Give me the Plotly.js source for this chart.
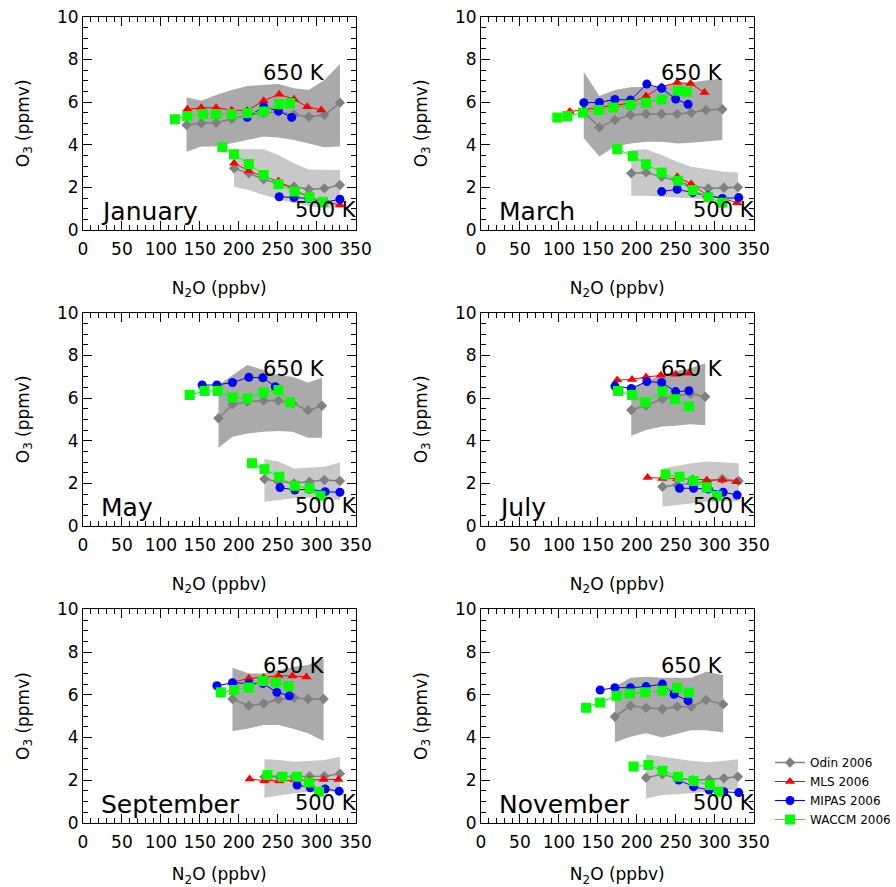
<!DOCTYPE html>
<html><head><meta charset="utf-8">
<script src="https://cdn.plot.ly/plotly-3.0.1.min.js"></script>
<style>html,body{margin:0;padding:0;background:#fff}#chart{width:896px;height:887px}</style>
</head><body><div id="chart"></div>
<script>
// ---------------- January ----------------
const janOdin650X = [133,152,171,191,211,232,251,271,290,310,330];
const janOdin650Y = [4.92,5.0,5.03,5.2,5.39,5.47,5.55,5.4,5.31,5.39,5.97];
const janOdin650Hi = [6.22,6.06,6.33,6.56,6.75,6.8,6.84,6.64,6.56,7.03,7.78];
const janOdin650Lo = [3.67,3.91,3.91,4.06,4.22,4.38,4.34,4.22,4.06,3.88,3.91];
const janOdin500X = [194,213,232,251,271,290,310,330];
const janOdin500Y = [2.89,2.66,2.38,2.16,2.03,1.91,1.95,2.11];
const janOdin500Hi = [3.78,3.78,3.78,3.52,3.13,2.84,2.84,2.81];
const janOdin500Lo = [2.03,1.88,1.64,1.44,1.25,1.13,1.02,1.09];
const janMls650X = [134,152,171,191,211,232,252,271,288,306];
const janMls650Y = [5.66,5.73,5.73,5.62,5.6,6.06,6.36,6.13,5.78,5.63];
const janMls500X = [194,213,232,251,271,290,310,330];
const janMls500Y = [3.13,2.77,2.5,2.3,1.88,1.56,1.33,1.17];
const janMipas650X = [211,232,251,268];
const janMipas650Y = [5.28,5.78,5.58,5.28];
const janMipas500X = [252,271,290,310,330];
const janMipas500Y = [1.56,1.52,1.48,1.3,1.44];
const janWaccm650X = [118,134,154,171,191,211,232,252,266];
const janWaccm650Y = [5.19,5.34,5.44,5.44,5.44,5.47,5.55,5.91,5.94];
const janWaccm500X = [179,194,213,232,251,272,291,308];
const janWaccm500Y = [3.88,3.55,3.09,2.58,2.16,1.8,1.53,1.33];

// ---------------- March ----------------
const marOdin650X = [132,152,172,192,212,232,252,270,289,310];
const marOdin650Y = [5.55,4.81,5.16,5.39,5.44,5.44,5.44,5.5,5.63,5.66];
const marOdin650Hi = [7.42,6.28,6.56,6.69,6.72,6.75,6.84,6.91,7.0,7.1];
const marOdin650Lo = [4.3,3.44,3.91,4.06,4.14,4.14,4.06,4.09,4.14,4.22];
const marOdin500X = [193,212,232,252,270,292,312,330];
const marOdin500Y = [2.66,2.7,2.5,2.3,2.06,1.95,1.98,2.0];
const marOdin500Hi = [3.75,3.78,3.52,3.2,2.97,2.84,2.73,2.69];
const marOdin500Lo = [1.61,1.61,1.56,1.53,1.48,1.44,1.41,1.38];
const marMls650X = [114,132,151,171,192,212,232,252,269,287];
const marMls650Y = [5.55,5.65,5.75,5.85,5.95,6.28,6.72,6.91,6.87,6.45];
const marMls500X = [252,270,290,310,329];
const marMls500Y = [2.5,2.16,1.64,1.48,1.28];
const marMipas650X = [132,152,172,192,213,232,250,266];
const marMipas650Y = [5.97,5.98,6.12,6.09,6.84,6.64,6.14,5.89];
const marMipas500X = [232,252,272,292,310,331];
const marMipas500Y = [1.8,1.91,1.75,1.59,1.48,1.52];
const marWaccm650X = [98,111,131,151,170,192,212,232,253,264];
const marWaccm650Y = [5.28,5.34,5.5,5.63,5.74,5.86,5.97,6.12,6.53,6.48];
const marWaccm500X = [175,195,212,232,253,272,292,310];
const marWaccm500Y = [3.78,3.47,3.08,2.69,2.31,1.88,1.53,1.28];

// ---------------- May ----------------
const mayOdin650X = [174,192,211,232,251,269,289,307];
const mayOdin650Y = [5.05,5.7,5.83,5.88,5.88,5.75,5.42,5.64];
const mayOdin650Hi = [6.61,7.08,7.55,7.31,7.05,7.0,6.73,6.95];
const mayOdin650Lo = [3.67,4.19,4.34,4.42,4.45,4.42,4.14,4.14];
const mayOdin500X = [233,251,271,291,310,330];
const mayOdin500Y = [2.2,2.08,2.0,2.08,2.16,2.11];
const mayOdin500Hi = [3.14,3.02,2.7,2.73,2.78,2.98];
const mayOdin500Lo = [1.14,1.22,1.3,1.33,1.27,1.22];
const mayMipas650X = [153,172,192,213,231,247];
const mayMipas650Y = [6.61,6.61,6.73,6.97,6.95,6.53];
const mayMipas500X = [253,272,291,311,330];
const mayMipas500Y = [1.8,1.69,1.73,1.61,1.58];
const mayWaccm650X = [137,156,173,192,211,232,251,266];
const mayWaccm650Y = [6.14,6.33,6.33,6.03,5.98,6.27,6.38,5.8];
const mayWaccm500X = [217,233,252,272,291,305];
const mayWaccm500Y = [2.94,2.66,2.31,1.89,1.77,1.42];

// ---------------- July ----------------
const julOdin650X = [193,212,233,250,269,288];
const julOdin650Y = [5.44,5.65,5.95,6.1,6.2,6.06];
const julOdin650Hi = [6.48,6.8,7.08,7.27,7.39,7.63];
const julOdin650Lo = [4.23,4.5,4.66,4.7,4.77,4.72];
const julOdin500X = [233,252,270,290,310,331];
const julOdin500Y = [1.84,1.92,2.0,2.08,2.2,2.11];
const julOdin500Hi = [2.7,2.83,2.94,3.02,2.98,2.94];
const julOdin500Lo = [0.91,0.98,1.06,1.14,1.14,1.17];
const julMls650X = [175,194,212,231,250,267];
const julMls650Y = [6.84,6.87,6.99,7.07,7.12,7.16];
const julMls500X = [214,233,252,272,290,310,328];
const julMls500Y = [2.27,2.23,2.22,2.2,2.16,2.16,2.08];
const julMipas650X = [172,193,213,232,250,267];
const julMipas650Y = [6.56,6.45,6.77,6.73,6.3,6.34];
const julMipas500X = [255,273,292,311,329];
const julMipas500Y = [1.77,1.77,1.73,1.58,1.45];
const julWaccm650X = [176,194,211,233,249,267];
const julWaccm650Y = [6.33,6.14,5.8,6.3,5.94,5.6];
const julWaccm500X = [237,255,273,290,303];
const julWaccm500Y = [2.42,2.31,2.11,1.81,1.42];

// ---------------- September ----------------
const sepOdin650X = [192,213,232,251,271,289,309];
const sepOdin650Y = [5.8,5.48,5.59,5.78,5.86,5.8,5.8];
const sepOdin650Hi = [7.27,7.0,7.0,7.16,7.31,7.39,7.7];
const sepOdin650Lo = [4.3,4.42,4.58,4.58,4.39,4.19,3.83];
const sepOdin500X = [233,252,271,291,310,330];
const sepOdin500Y = [2.15,2.15,2.15,2.18,2.18,2.3];
const sepOdin500Hi = [2.98,2.94,2.86,2.89,2.94,3.09];
const sepOdin500Lo = [1.17,1.27,1.38,1.45,1.48,1.45];
const sepMls650X = [192,213,232,251,269,287];
const sepMls650Y = [6.58,6.77,6.81,6.89,6.88,6.83];
const sepMls500X = [214,233,252,272,291,309,328];
const sepMls500Y = [2.05,1.97,1.97,2.0,2.0,2.02,2.03];
const sepMipas650X = [172,192,213,231,249,265];
const sepMipas650Y = [6.42,6.56,6.53,6.53,6.11,5.95];
const sepMipas500X = [275,292,311,329];
const sepMipas500Y = [1.77,1.64,1.58,1.48];
const sepWaccm650X = [177,194,213,231,248,264];
const sepWaccm650Y = [6.11,6.22,6.34,6.64,6.58,6.41];
const sepWaccm500X = [237,256,275,290,303];
const sepWaccm500Y = [2.24,2.16,2.16,1.89,1.45];

// ---------------- November ----------------
const novOdin650X = [172,192,212,233,252,270,289,311];
const novOdin650Y = [4.97,5.48,5.39,5.33,5.44,5.44,5.75,5.55];
const novOdin650Hi = [6.38,6.8,6.84,6.8,6.8,6.8,7.08,6.92];
const novOdin650Lo = [3.77,4.03,4.19,4.0,4.19,4.34,4.34,4.23];
const novOdin500X = [212,233,252,272,293,312,330];
const novOdin500Y = [2.11,2.27,2.08,2.0,2.03,2.08,2.16];
const novOdin500Hi = [3.2,3.09,2.98,2.89,2.83,2.89,2.98];
const novOdin500Lo = [1.14,1.3,1.33,1.38,1.45,1.53,1.53];
const novMipas650X = [153,172,192,212,233,248,266];
const novMipas650Y = [6.22,6.33,6.33,6.38,6.5,6.02,5.72];
const novMipas500X = [254,273,293,312,331];
const novMipas500Y = [2.0,1.69,1.53,1.45,1.41];
const novWaccm650X = [135,153,174,191,211,233,252,267];
const novWaccm650Y = [5.39,5.64,5.95,6.06,6.11,6.19,6.33,6.09];
const novWaccm500X = [196,215,233,253,273,294,305];
const novWaccm500Y = [2.63,2.7,2.44,2.16,1.95,1.77,1.45];

// ---------------- labels ----------------
const monthNames = ['January','March','May','July','September','November'];
const seriesNames = ['Odin 2006','MLS 2006','MIPAS 2006','WACCM 2006'];
const levelLabels = ['650 K','500 K'];
const xTitle = 'N<sub>2</sub>O (ppbv)';
const yTitle = 'O<sub>3</sub> (ppmv)';

// table of panels built from the arrays above
const panels = [
  {odin:[janOdin650X,janOdin650Y,janOdin650Hi,janOdin650Lo,janOdin500X,janOdin500Y,janOdin500Hi,janOdin500Lo],
   mls:[janMls650X,janMls650Y,janMls500X,janMls500Y], mipas:[janMipas650X,janMipas650Y,janMipas500X,janMipas500Y],
   waccm:[janWaccm650X,janWaccm650Y,janWaccm500X,janWaccm500Y]},
  {odin:[marOdin650X,marOdin650Y,marOdin650Hi,marOdin650Lo,marOdin500X,marOdin500Y,marOdin500Hi,marOdin500Lo],
   mls:[marMls650X,marMls650Y,marMls500X,marMls500Y], mipas:[marMipas650X,marMipas650Y,marMipas500X,marMipas500Y],
   waccm:[marWaccm650X,marWaccm650Y,marWaccm500X,marWaccm500Y]},
  {odin:[mayOdin650X,mayOdin650Y,mayOdin650Hi,mayOdin650Lo,mayOdin500X,mayOdin500Y,mayOdin500Hi,mayOdin500Lo],
   mls:null, mipas:[mayMipas650X,mayMipas650Y,mayMipas500X,mayMipas500Y],
   waccm:[mayWaccm650X,mayWaccm650Y,mayWaccm500X,mayWaccm500Y]},
  {odin:[julOdin650X,julOdin650Y,julOdin650Hi,julOdin650Lo,julOdin500X,julOdin500Y,julOdin500Hi,julOdin500Lo],
   mls:[julMls650X,julMls650Y,julMls500X,julMls500Y], mipas:[julMipas650X,julMipas650Y,julMipas500X,julMipas500Y],
   waccm:[julWaccm650X,julWaccm650Y,julWaccm500X,julWaccm500Y]},
  {odin:[sepOdin650X,sepOdin650Y,sepOdin650Hi,sepOdin650Lo,sepOdin500X,sepOdin500Y,sepOdin500Hi,sepOdin500Lo],
   mls:[sepMls650X,sepMls650Y,sepMls500X,sepMls500Y], mipas:[sepMipas650X,sepMipas650Y,sepMipas500X,sepMipas500Y],
   waccm:[sepWaccm650X,sepWaccm650Y,sepWaccm500X,sepWaccm500Y]},
  {odin:[novOdin650X,novOdin650Y,novOdin650Hi,novOdin650Lo,novOdin500X,novOdin500Y,novOdin500Hi,novOdin500Lo],
   mls:null, mipas:[novMipas650X,novMipas650Y,novMipas500X,novMipas500Y],
   waccm:[novWaccm650X,novWaccm650Y,novWaccm500X,novWaccm500Y]}
];

const FONT = 'DejaVu Sans, Liberation Sans, Arial, sans-serif';
const xDomains = [[83/896, 355.5/896],[481/896, 753.5/896]];
const yDomains = [[1-230/887, 1-16.7/887],[1-526/887, 1-312.7/887],[1-822.7/887, 1-609.4/887]];

const styles = {
  odin:  {color:'#808080', symbol:'diamond', size:8, lw:1.5, name:seriesNames[0]},
  mls:   {color:'#FF0000', symbol:'triangle-up', size:9, lw:1, name:seriesNames[1]},
  mipas: {color:'#0000FF', symbol:'circle', size:9, lw:1, name:seriesNames[2]},
  waccm: {color:'#00FF00', symbol:'square', size:10, lw:1, name:seriesNames[3]}
};

const traces = [];
const layout = {
  width:896, height:887, margin:{l:0,r:0,t:0,b:0},
  paper_bgcolor:'#fff', plot_bgcolor:'#fff',
  font:{family:FONT, color:'#000'},
  showlegend:true,
  legend:{x:770/896, xanchor:'left', y:1-791/887, yanchor:'middle', bgcolor:'rgba(0,0,0,0)',
          font:{family:FONT, size:12, color:'#000'}, itemwidth:30, tracegroupgap:0},
  annotations:[]
};

function join(a,b){ return a.concat([null], b); }

panels.forEach((p, i) => {
  const n = i + 1;
  const xa = 'x' + (n === 1 ? '' : n), ya = 'y' + (n === 1 ? '' : n);
  const col = i % 2, row = Math.floor(i / 2);
  const o = p.odin;
  // bands
  [[o[0],o[2],o[3],'#AAAAAA'],[o[4],o[6],o[7],'#C8C8C8']].forEach(b => {
    traces.push({x:b[0].concat(b[0].slice().reverse()), y:b[1].concat(b[2].slice().reverse()),
      fill:'toself', fillcolor:b[3], mode:'lines', line:{width:0, color:b[3]},
      hoverinfo:'skip', showlegend:false, xaxis:xa, yaxis:ya});
  });
  const series = {odin:[o[0],o[1],o[4],o[5]], mls:p.mls, mipas:p.mipas, waccm:p.waccm};
  ['odin','mls','mipas','waccm'].forEach(k => {
    const s = series[k], st = styles[k];
    if (!s) return;
    traces.push({x:join(s[0],s[2]), y:join(s[1],s[3]), mode:'lines+markers', name:st.name,
      legendgroup:k, showlegend:i===0, connectgaps:false,
      line:{color:st.color, width:st.lw},
      marker:{color:st.color, symbol:st.symbol, size:st.size, line:{width:0}},
      xaxis:xa, yaxis:ya});
  });
  const axBase = {showline:true, linecolor:'#000', linewidth:1, mirror:'allticks', ticks:'inside',
    tickcolor:'#000', tickwidth:1, ticklen:9, showgrid:false, zeroline:false,
    tickfont:{family:FONT, size:17, color:'#000'}};
  layout['xaxis' + (n === 1 ? '' : n)] = Object.assign({}, axBase, {
    domain:xDomains[col], anchor:ya, range:[0,350], tick0:0, dtick:50, ticklabelstandoff:4,
    minor:{dtick:10, ticklen:5, ticks:'inside', tickcolor:'#000', showgrid:false},
    title:{text:xTitle, font:{family:FONT, size:17, color:'#000'}, standoff:23}});
  layout['yaxis' + (n === 1 ? '' : n)] = Object.assign({}, axBase, {
    domain:yDomains[row], anchor:xa, range:[0,10], tick0:0, dtick:2,
    minor:{dtick:0.5, ticklen:5, ticks:'inside', tickcolor:'#000', showgrid:false},
    title:{text:yTitle, font:{family:FONT, size:17, color:'#000'}, standoff:23}});
  layout.annotations.push(
    {xref:xa, yref:ya, x:20, y:0.85, xanchor:'left', yanchor:'middle', text:monthNames[i], showarrow:false,
     font:{family:FONT, size:25, color:'#000'}},
    {xref:xa, yref:ya, x:271, y:7.35, xanchor:'center', yanchor:'middle', text:levelLabels[0], showarrow:false,
     font:{family:FONT, size:21, color:'#000'}},
    {xref:xa, yref:ya, x:312, y:0.94, xanchor:'center', yanchor:'middle', text:levelLabels[1], showarrow:false,
     font:{family:FONT, size:21, color:'#000'}}
  );
});

Plotly.newPlot('chart', traces, layout, {displayModeBar:false, staticPlot:true});
</script>
</body></html>
